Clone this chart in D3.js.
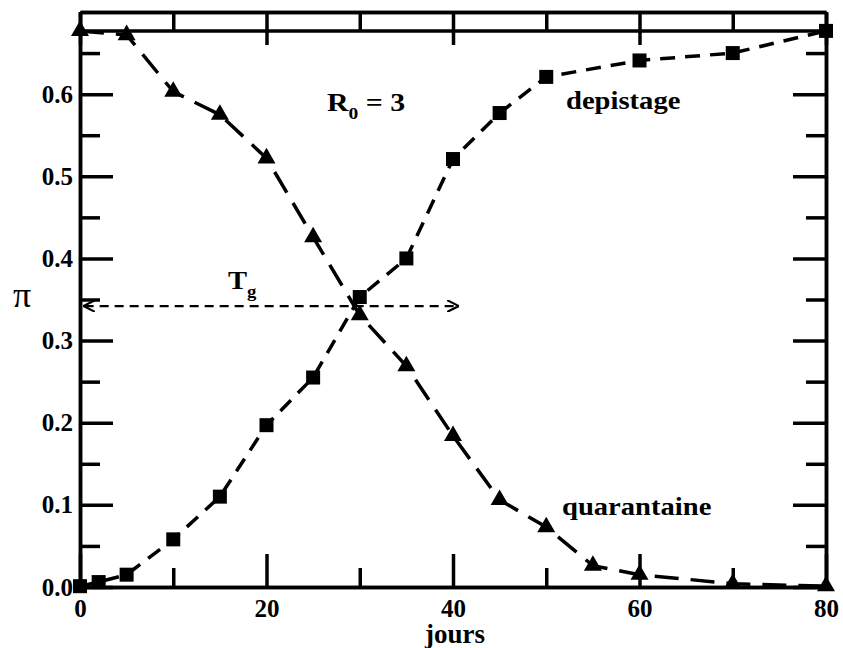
<!DOCTYPE html>
<html>
<head>
<meta charset="utf-8">
<script src="https://cdn.jsdelivr.net/npm/d3@7"></script>
<style>
  body { margin: 0; background: #fff; }
</style>
</head>
<body>
<div class="chart"></div>
<script>
// data
const quarX = [0, 5, 10, 15, 20, 25, 30, 35, 40, 45, 50, 55, 60, 70, 80];
const quarY = [0.677, 0.672, 0.603, 0.575, 0.522, 0.426, 0.331, 0.269, 0.184, 0.106, 0.073, 0.026, 0.015, 0.004, 0.001];
const depX = [0, 2, 5, 10, 15, 20, 25, 30, 35, 40, 45, 50, 60, 70, 80];
const depY = [0.001, 0.006, 0.015, 0.058, 0.11, 0.197, 0.255, 0.353, 0.40, 0.521, 0.577, 0.621, 0.641, 0.650, 0.677];
const xTicks = [0, 20, 40, 60, 80];
const yTicks = [0.0, 0.1, 0.2, 0.3, 0.4, 0.5, 0.6];
const topLine = 0.677;
const tgArrow = {x0: 0.5, x1: 40.5, y: 0.342};

const FONT = '"Liberation Serif", "Times New Roman", "DejaVu Serif", serif';

const svg_width = 843, svg_height = 648;
const margin = {top: 12, right: 17, bottom: 61, left: 80};
const w = svg_width - margin.left - margin.right;
const h = svg_height - margin.top - margin.bottom;

const svg = d3.select('.chart').append('svg')
  .attr('width', svg_width).attr('height', svg_height);

const defs = svg.append('defs');
['start', 'end'].forEach(k => {
  defs.append('marker').attr('id', 'arr-' + k)
    .attr('viewBox', '0 0 10 10').attr('refX', 9).attr('refY', 5)
    .attr('markerWidth', 12).attr('markerHeight', 12).attr('markerUnits', 'userSpaceOnUse')
    .attr('orient', 'auto-start-reverse')
    .append('path').attr('d', 'M0,0 L10,5 L0,10')
    .attr('fill', 'none').attr('stroke', '#000').attr('stroke-width', 1.8);
});

const g = svg.append('g').attr('transform', `translate(${margin.left},${margin.top})`);

const x = d3.scaleLinear().domain([0, 80]).range([0, w]);
const y = d3.scaleLinear().domain([0, 0.7]).range([h, 0]);

// minor ticks
const xMinor = d3.range(10, 80, 20);
const yMinor = d3.range(0.05, 0.7, 0.1);

function styleAxis(sel){
  sel.select('.domain').attr('stroke-width', 3.5);
  sel.selectAll('.tick line').attr('stroke-width', 3.5);
  sel.selectAll('text').style('font-size', '25px');
}

g.append('g').attr('transform', `translate(0,${h})`)
  .call(d3.axisBottom(x).tickValues(xTicks).tickSizeInner(-33).tickSizeOuter(0).tickPadding(7).tickFormat(d3.format('d')))
  .call(styleAxis).call(s => s.selectAll('text').attr('dy', '0.9em'));
g.append('g').attr('transform', `translate(0,${h})`)
  .call(d3.axisBottom(x).tickValues(xMinor).tickSizeInner(-19).tickSizeOuter(0).tickFormat(''))
  .call(styleAxis);
g.append('g')
  .call(d3.axisTop(x).tickValues(xTicks).tickSizeInner(-33).tickSizeOuter(0).tickFormat(''))
  .call(styleAxis);
g.append('g')
  .call(d3.axisTop(x).tickValues(xMinor).tickSizeInner(-19).tickSizeOuter(0).tickFormat(''))
  .call(styleAxis);

g.append('g')
  .call(d3.axisLeft(y).tickValues(yTicks).tickSizeInner(-33).tickSizeOuter(0).tickPadding(7).tickFormat(d3.format('.1f')))
  .call(styleAxis);
g.append('g')
  .call(d3.axisLeft(y).tickValues(yMinor).tickSizeInner(-20).tickSizeOuter(0).tickFormat(''))
  .call(styleAxis);
g.append('g').attr('transform', `translate(${w},0)`)
  .call(d3.axisRight(y).tickValues(yTicks).tickSizeInner(-33).tickSizeOuter(0).tickFormat(''))
  .call(styleAxis);
g.append('g').attr('transform', `translate(${w},0)`)
  .call(d3.axisRight(y).tickValues(yMinor).tickSizeInner(-20).tickSizeOuter(0).tickFormat(''))
  .call(styleAxis);

// horizontal line near top
g.append('line')
  .attr('x1', 0).attr('x2', w)
  .attr('y1', y(topLine)).attr('y2', y(topLine))
  .attr('stroke', '#000').attr('stroke-width', 3.5);

const lineGen = d3.line().x(d => x(d[0])).y(d => y(d[1]));
const quar = quarX.map((d, i) => [d, quarY[i]]);
const dep = depX.map((d, i) => [d, depY[i]]);

g.append('path').attr('d', lineGen(quar))
  .attr('fill', 'none').attr('stroke', '#000').attr('stroke-width', 3.5)
  .attr('stroke-dasharray', '24,12');
g.append('path').attr('d', lineGen(dep))
  .attr('fill', 'none').attr('stroke', '#000').attr('stroke-width', 3.5)
  .attr('stroke-dasharray', '15,10');

g.selectAll('.tri').data(quar).join('path')
  .attr('class', 'tri')
  .attr('transform', d => `translate(${x(d[0])},${y(d[1])})`)
  .attr('d', d3.symbol(d3.symbolTriangle, 140));
g.selectAll('.sq').data(dep).join('rect')
  .attr('class', 'sq')
  .attr('x', d => x(d[0]) - 7).attr('y', d => y(d[1]) - 7)
  .attr('width', 14).attr('height', 14);

// T_g arrow
g.append('line')
  .attr('x1', x(tgArrow.x0)).attr('x2', x(tgArrow.x1))
  .attr('y1', y(tgArrow.y)).attr('y2', y(tgArrow.y))
  .attr('stroke', '#000').attr('stroke-width', 2.2)
  .attr('stroke-dasharray', '9,6')
  .attr('marker-start', 'url(#arr-start)').attr('marker-end', 'url(#arr-end)');

// annotations, stretched a little sideways like the original picture
function label(px, py, sx){
  return svg.append('text')
    .attr('transform', `translate(${px},${py}) scale(${sx},1)`)
    .style('font-size', '26px');
}

const tg = label(228, 289, 1.1);
tg.append('tspan').text('T');
tg.append('tspan').text('g').attr('dy', 8).style('font-size', '17px');

const r0 = label(327, 111, 1.15);
r0.append('tspan').text('R');
r0.append('tspan').text('0').attr('dy', 8).style('font-size', '17px');
r0.append('tspan').text(' = 3').attr('dy', -8);

label(566, 109, 1.1).text('depistage');
label(562, 515, 1.1).text('quarantaine');

label(455, 643, 1.0).attr('text-anchor', 'middle').style('font-size', '27px').text('jours');
svg.append('text').attr('x', 22).attr('y', 307).attr('text-anchor', 'middle')
  .attr('class', 'pi').style('font-size', '36px').text('π');

svg.selectAll('text')
  .attr('font-family', null)
  .style('font-family', FONT)
  .style('font-weight', 'bold')
  .style('fill', '#000');
svg.select('.pi').style('font-weight', 'normal');
</script>
</body>
</html>
